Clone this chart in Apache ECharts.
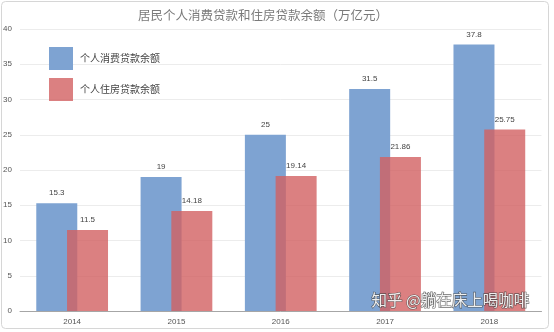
<!DOCTYPE html>
<html>
<head>
<meta charset="utf-8">
<script src="https://cdn.jsdelivr.net/npm/echarts@6/dist/echarts.min.js"></script>
<style>
html,body{margin:0;padding:0;background:#fff;}
#chart{width:554px;height:332px;}
</style>
</head>
<body>
<div id="chart"></div>
<script>
// Household loan balances, trillion yuan
const years = ['2014', '2015', '2016', '2017', '2018'];
const consumerLoans = [15.3, 19, 25, 31.5, 37.8];
const housingLoans = [11.5, 14.18, 19.14, 21.86, 25.75];
const yTicks = [0, 5, 10, 15, 20, 25, 30, 35, 40];

const chart = echarts.init(document.getElementById('chart'));
const cjk = '"Noto Sans CJK SC", "Noto Sans", sans-serif';
const latin = '"Liberation Sans", sans-serif';

chart.setOption({
  animation: false,
  backgroundColor: '#fff',
  title: {
    text: '居民个人消费贷款和住房贷款余额（万亿元）',
    left: 258,
    textAlign: 'center',
    top: 4,
    textStyle: { fontFamily: cjk, fontSize: 12.5, fontWeight: 'normal', color: '#7a7a7a' }
  },
  legend: {
    orient: 'vertical',
    left: 44,
    top: 42,
    itemWidth: 24,
    itemHeight: 23,
    itemGap: 8,
    icon: 'rect',
    textStyle: { fontFamily: cjk, fontSize: 10, color: '#444', padding: [0, 0, 0, 2] }
  },
  grid: { left: 20, right: 12.5, top: 29, bottom: 21, containLabel: false },
  xAxis: {
    type: 'category',
    data: years,
    axisLine: { lineStyle: { color: '#a6a6a6' } },
    axisTick: { show: false },
    axisLabel: { fontSize: 8, color: '#555', margin: 7, fontFamily: latin }
  },
  yAxis: {
    type: 'value',
    min: yTicks[0],
    max: yTicks[yTicks.length - 1],
    interval: yTicks[1] - yTicks[0],
    axisLine: { show: false },
    axisTick: { show: false },
    splitLine: { lineStyle: { color: '#ececec' } },
    axisLabel: { fontSize: 8, color: '#555', margin: 8, fontFamily: latin }
  },
  series: [
    {
      name: '个人消费贷款余额',
      type: 'bar',
      data: consumerLoans,
      barWidth: 41,
      barGap: '-25%',
      itemStyle: { color: 'rgb(126,163,210)' },
      label: { show: true, position: 'top', distance: 6, fontSize: 8, color: '#444', fontFamily: latin }
    },
    {
      name: '个人住房贷款余额',
      type: 'bar',
      data: housingLoans,
      barWidth: 41,
      itemStyle: { color: 'rgba(210,96,98,0.8)' },
      label: { show: true, position: 'top', distance: 6, fontSize: 8, color: '#444', fontFamily: latin }
    }
  ],
  graphic: [
    {
      type: 'rect',
      shape: { x: 1.5, y: 1.5, width: 547, height: 327, r: 4 },
      style: { fill: 'none', stroke: '#d6d6d6', lineWidth: 1 },
      silent: true
    },
    {
      type: 'text',
      left: 371,
      top: 292,
      style: {
        text: '知乎 @躺在床上喝咖啡',
        fontFamily: cjk,
        fontSize: 15.5,
        fill: 'rgba(255,255,255,0.9)',
        stroke: 'rgba(70,70,70,0.8)',
        lineWidth: 1.2
      },
      z: 100
    }
  ]
});
</script>
</body>
</html>
